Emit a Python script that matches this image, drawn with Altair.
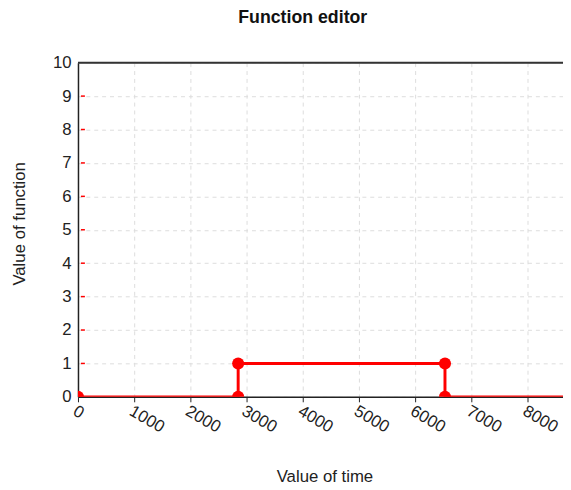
import altair as alt
import pandas as pd

times = [0, 2850, 2850, 6530, 6530, 9000]
values = [0, 0, 1, 1, 0, 0]
grid_y = [1, 2, 3, 4, 5, 6, 7, 8, 9]

df = pd.DataFrame({"t": times, "v": values, "order": list(range(len(times)))})
tick_df = pd.DataFrame({"y": grid_y})

FONT = "Liberation Sans"
XMAX = 8630

x_scale = alt.Scale(domain=[0, XMAX], nice=False, zero=False)
y_scale = alt.Scale(domain=[0, 10], nice=False)

x_axis = alt.Axis(
    title="Value of time", values=list(range(0, 9000, 1000)), format="d",
    labelAngle=30, labelAlign="left", labelBaseline="top", labelPadding=1,
    labelFontSize=17, labelColor="#222", labelFont=FONT, labelOverlap=False,
    labelFlush=False,
    tickColor="#222", tickSize=5, domainColor="#222", domainWidth=1.5,
    grid=True, gridColor="#dcdcdc", gridDash=[4, 4],
    titleFont=FONT, titleFontSize=17, titleFontWeight="normal", titleColor="#222",
    titleX=250, titleY=81, titleAlign="center", titleBaseline="middle",
)
y_axis = alt.Axis(
    title="Value of function", values=list(range(0, 11)), format="d",
    labelFontSize=17, labelColor="#222", labelFont=FONT, labelPadding=7,
    labelOverlap=False, labelFlush=False,
    ticks=False, domainColor="#222", domainWidth=1.5,
    grid=True, gridColor="#dcdcdc", gridDash=[4, 4],
    titleFont=FONT, titleFontSize=17, titleFontWeight="normal", titleColor="#222",
    titleX=-59, titleY=163, titleAngle=-90, titleAlign="center", titleBaseline="middle",
)

base = alt.Chart(df)

top_border = alt.Chart(pd.DataFrame({"y": [10]})).mark_rule(color="#333", strokeWidth=2).encode(
    y=alt.Y("y:Q", scale=y_scale, axis=y_axis), x=alt.value(0), x2=alt.value(492)
)
red_ticks = alt.Chart(tick_df).mark_rule(color="#ff0000", strokeWidth=1.5).encode(
    y=alt.Y("y:Q", scale=y_scale, axis=y_axis), x=alt.value(3), x2=alt.value(7)
)
line = base.mark_line(color="#ff0000", strokeWidth=3, clip=True).encode(
    x=alt.X("t:Q", scale=x_scale, axis=x_axis),
    y=alt.Y("v:Q", scale=y_scale, axis=y_axis),
    order="order:Q",
)
pts = base.mark_circle(color="#ff0000", opacity=1, size=150, clip=True).encode(
    x=alt.X("t:Q", scale=x_scale, axis=x_axis),
    y=alt.Y("v:Q", scale=y_scale, axis=y_axis),
)

chart = alt.layer(top_border, red_ticks, line, pts).properties(
    width=492, height=339,
    autosize=alt.AutoSizeParams(type="none"),
    padding={"left": 71, "top": 52, "right": 0, "bottom": 90},
    title=alt.TitleParams(
        "Function editor", font=FONT, fontSize=18, fontWeight="bold", color="#111",
        anchor="middle", dx=-18, offset=27,
    ),
).configure_view(stroke=None).configure(background="white")

chart.save("out.html", embed_options={"renderer": "svg", "actions": False})
